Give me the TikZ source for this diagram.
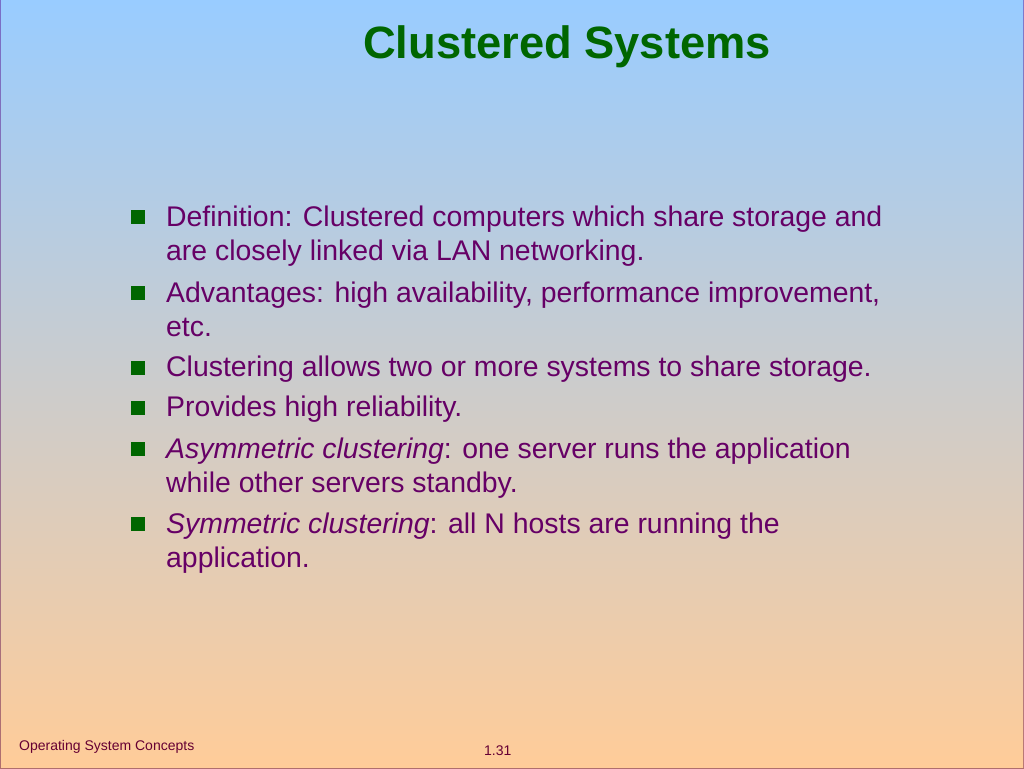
\documentclass[tikz,border=0pt]{standalone}
\usepackage{fontspec}
\setmainfont{Liberation Sans}
\definecolor{bgtop}{RGB}{153,204,255}
\definecolor{bgbot}{RGB}{255,204,153}
\definecolor{edgetop}{RGB}{120,110,200}
\definecolor{edgebot}{RGB}{176,110,110}
\definecolor{titlegreen}{RGB}{0,102,0}
\definecolor{txtpurple}{RGB}{102,0,102}
\definecolor{footcol}{RGB}{102,0,51}
\begin{document}
\begin{tikzpicture}[x=1pt,y=-1pt,
  bulletsq/.style={fill=titlegreen,minimum size=14pt,inner sep=0pt},
  bodytext/.style={anchor=base west,inner sep=0pt,text=txtpurple,
    font=\fontsize{28.4}{34}\selectfont},
  foottext/.style={anchor=base west,inner sep=0pt,text=footcol,font=\fontsize{14}{16}\selectfont}]
\useasboundingbox (0,0) rectangle (1024,768);
\shade[top color=edgetop,bottom color=edgebot] (0,0) rectangle (1024,768);
\shade[top color=bgtop,bottom color=bgbot] (1,1) rectangle (1023,767);
\node[anchor=base,inner sep=0pt,text=titlegreen,font=\fontsize{45.3}{52}\bfseries\selectfont] (title) at (567,59) {Clustered Systems};
\node[bulletsq] (b1) at (137.5,216.5) {};
\node[bodytext] (t1) at (166,226) {Definition: Clustered computers which share storage and};
\node[bodytext] (t1b) at (166,260) {are closely linked via LAN networking.};
\node[bulletsq] (b2) at (137.5,292.5) {};
\node[bodytext] (t2) at (166,302) {Advantages: high availability, performance improvement,};
\node[bodytext] (t2b) at (166,336) {etc.};
\node[bulletsq] (b3) at (137.5,367.5) {};
\node[bodytext] (t3) at (166,376) {Clustering allows two or more systems to share storage.};
\node[bulletsq] (b4) at (137.5,407.5) {};
\node[bodytext] (t4) at (166,416) {Provides high reliability.};
\node[bulletsq] (b5) at (137.5,448.5) {};
\node[bodytext] (t5) at (166,458) {\textit{Asymmetric clustering}: one server runs the application};
\node[bodytext] (t5b) at (166,492) {while other servers standby.};
\node[bulletsq] (b6) at (137.5,523.5) {};
\node[bodytext] (t6) at (166,533) {\textit{Symmetric clustering}: all N hosts are running the};
\node[bodytext] (t6b) at (166,567) {application.};
\node[foottext] (f1) at (19,750) {Operating System Concepts};
\node[foottext] (f2) at (484,755) {1.31};
\end{tikzpicture}
\end{document}
